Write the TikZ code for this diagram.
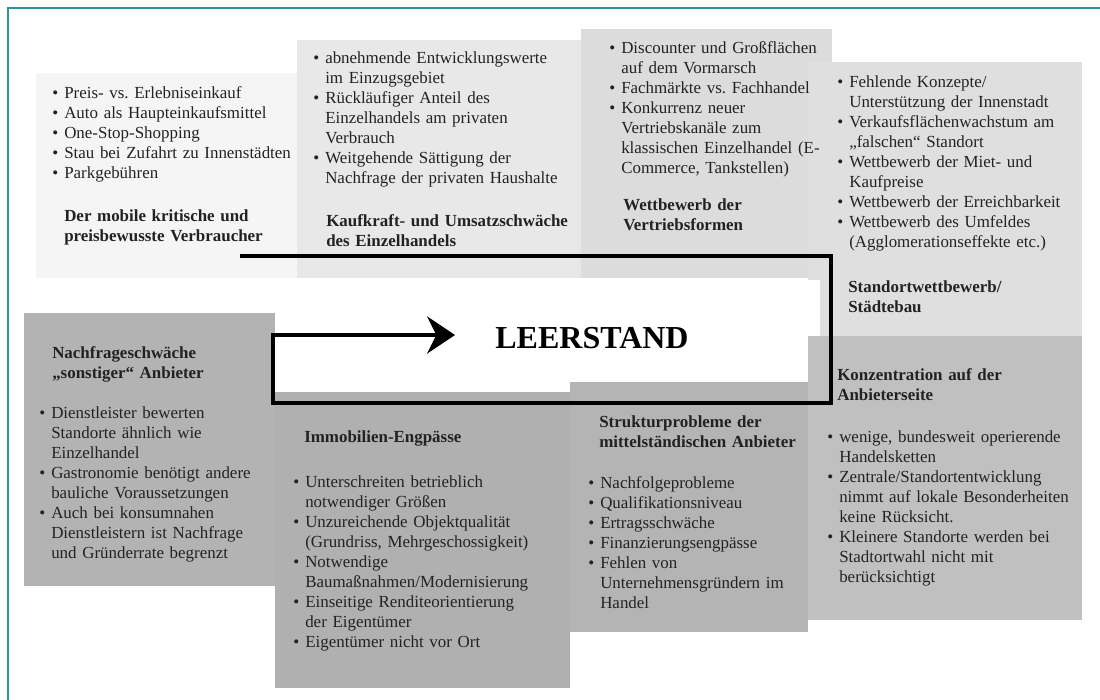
\documentclass[tikz,border=0pt]{standalone}
\usepackage{fontspec}
\setmainfont{Liberation Serif}
\usepackage{xcolor}
\usepackage{tikz}
\usetikzlibrary{
	positioning,
	arrows.meta
}

\definecolor{frameteal}{HTML}{2E9494}
\definecolor{inktext}{HTML}{222222}
\definecolor{shadeA}{HTML}{F5F5F5}
\definecolor{shadeB}{HTML}{E8E8E8}
\definecolor{shadeC}{HTML}{DCDCDC}
\definecolor{shadeD}{HTML}{DFDFDF}
\definecolor{shadeE}{HTML}{B3B3B3}
\definecolor{shadeF}{HTML}{B0B0B0}
\definecolor{shadeG}{HTML}{B4B4B4}
\definecolor{shadeH}{HTML}{C0C0C0}

\frenchspacing
\newcommand{\itm}[1]{\noindent\hangindent=9pt\hangafter=1\makebox[9pt][l]{\textbullet}#1\par}

\tikzset{
	liste/.style={anchor=base west, text width=215pt, align=left, inner sep=0pt,
		text=inktext, font=\fontsize{12.7}{15}\selectfont},
	titel/.style={anchor=base west, text width=215pt, align=left, inner sep=0pt,
		text=inktext, font=\fontsize{12.7}{15}\selectfont\bfseries},
	schleife/.style={line width=2.4pt, line join=miter,
		-{Stealth[length=21pt,width=28pt,inset=7pt]}}
}

\begin{document}
\begin{tikzpicture}[x=0.75pt,y=-0.75pt]
		\useasboundingbox (0,0) rectangle (1100,700);
		\draw[frameteal, line width=1.5pt] (1100,8) -- (8,8) -- (8,700);

		\fill[shadeA] (36,73)   rectangle (298,278);
		\fill[shadeB] (297,40)  rectangle (582,278);
		\fill[shadeC] (581,29)  rectangle (832,278);
		\fill[shadeD] (808,62)  rectangle (1082,336);
		\fill[white]  (275,280) rectangle (820,392);
		\fill[shadeE] (24,313)  rectangle (275,586);
		\fill[shadeF] (275,392) rectangle (570,688);
		\fill[shadeG] (570,382) rectangle (808,632);
		\fill[shadeH] (808,336) rectangle (1082,620);

		\node[liste] (verbraucherListe) at (52,98) {%
			\itm{Preis- vs. Erlebniseinkauf}
			\itm{Auto als Haupteinkaufsmittel}
			\itm{One-Stop-Shopping}
			\itm{Stau bei Zufahrt zu Innenstädten}
			\itm{Parkgebühren}};
		\node[titel] (verbraucherTitel) at (64,221) {Der mobile kritische und\\preisbewusste Verbraucher};

		\node[liste] (kaufkraftListe) at (313,63) {%
			\itm{abnehmende Entwicklungswerte\newline im Einzugsgebiet}
			\itm{Rückläufiger Anteil des\newline Einzelhandels am privaten\newline Verbrauch}
			\itm{Weitgehende Sättigung der\newline Nachfrage der privaten Haushalte}};
		\node[titel] (kaufkraftTitel) at (326,226) {Kaufkraft- und Umsatzschwäche\\des Einzelhandels};

		\node[liste] (vertriebListe) at (609,53) {%
			\itm{Discounter und Großflächen\newline auf dem Vormarsch}
			\itm{Fachmärkte vs. Fachhandel}
			\itm{Konkurrenz neuer\newline Vertriebskanäle zum\newline klassischen Einzelhandel (E-\newline Commerce, Tankstellen)}};
		\node[titel] (vertriebTitel) at (623,210) {Wettbewerb der\\Vertriebsformen};

		\node[liste] (standortListe) at (837,87) {%
			\itm{Fehlende Konzepte/\newline Unterstützung der Innenstadt}
			\itm{Verkaufsflächenwachstum am\newline „falschen“ Standort}
			\itm{Wettbewerb der Miet- und\newline Kaufpreise}
			\itm{Wettbewerb der Erreichbarkeit}
			\itm{Wettbewerb des Umfeldes\newline (Agglomerationseffekte etc.)}};
		\node[titel] (standortTitel) at (848,292) {Standortwettbewerb/\\Städtebau};

		\node[titel] (nachfrageTitel) at (52,358) {Nachfrageschwäche\\„sonstiger“ Anbieter};
		\node[liste] (nachfrageListe) at (39,418) {%
			\itm{Dienstleister bewerten\newline Standorte ähnlich wie\newline Einzelhandel}
			\itm{Gastronomie benötigt andere\newline bauliche Voraussetzungen}
			\itm{Auch bei konsumnahen\newline Dienstleistern ist Nachfrage\newline und Gründerrate begrenzt}};

		\node[titel] (immobilienTitel) at (304,442) {Immobilien-Engpässe};
		\node[liste] (immobilienListe) at (293,487) {%
			\itm{Unterschreiten betrieblich\newline notwendiger Größen}
			\itm{Unzureichende Objektqualität\newline (Grundriss, Mehrgeschossigkeit)}
			\itm{Notwendige\newline Baumaßnahmen/Modernisierung}
			\itm{Einseitige Renditeorientierung\newline der Eigentümer}
			\itm{Eigentümer nicht vor Ort}};

		\node[titel] (strukturTitel) at (599,427) {Strukturprobleme der\\mittelständischen Anbieter};
		\node[liste] (strukturListe) at (588,488) {%
			\itm{Nachfolgeprobleme}
			\itm{Qualifikationsniveau}
			\itm{Ertragsschwäche}
			\itm{Finanzierungsengpässe}
			\itm{Fehlen von\newline Unternehmensgründern im\newline Handel}};

		\node[titel] (konzentrationTitel) at (837,380) {Konzentration auf der\\Anbieterseite};
		\node[liste] (konzentrationListe) at (827,442) {%
			\itm{wenige, bundesweit operierende\newline Handelsketten}
			\itm{Zentrale/Standortentwicklung\newline nimmt auf lokale Besonderheiten\newline keine Rücksicht.}
			\itm{Kleinere Standorte werden bei\newline Stadtortwahl nicht mit\newline berücksichtigt}};

		\node[font=\fontsize{24}{28}\selectfont\bfseries, inner sep=0pt] (leerstand) at (592,338) {LEERSTAND};

		\coordinate (s0) at (240,256);
		\coordinate (s1) at (831,256);
		\coordinate (s2) at (831,403);
		\coordinate (s3) at (273,403);
		\coordinate (s4) at (273,335);
		\coordinate (pfeil) at (455,335);
		\draw[schleife] (s0) -- (s1) -- (s2) -- (s3) -- (s4) -- (pfeil);
	\end{tikzpicture}
\end{document}
